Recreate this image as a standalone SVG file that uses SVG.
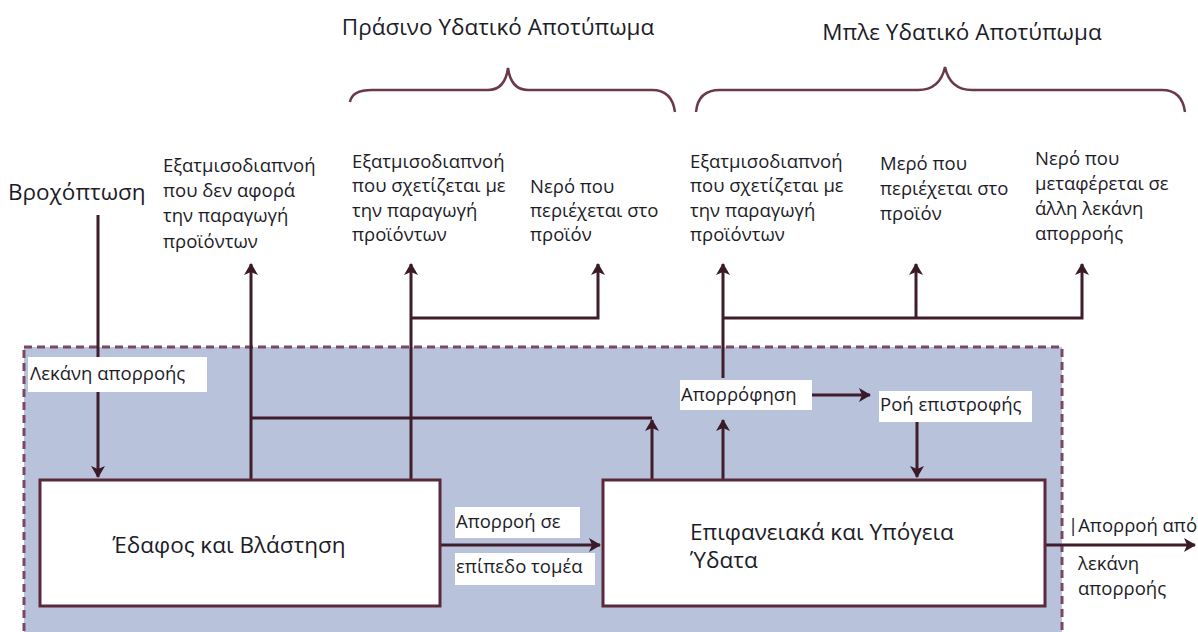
<svg xmlns="http://www.w3.org/2000/svg" width="1198" height="632" viewBox="0 0 1198 632">
<defs>
<marker id="ah" viewBox="0 0 12 14" refX="11" refY="7" markerWidth="13" markerHeight="14" markerUnits="userSpaceOnUse" orient="auto">
<path d="M0,0 L12,7 L0,14 L3,7 Z" fill="#3a1a28"/>
</marker>
<style>
.ln{stroke:#3f1d2c;stroke-width:3;fill:none}
.ar{stroke:#3f1d2c;stroke-width:3;fill:none;marker-end:url(#ah)}
.t{font-family:"Open Sans","Noto Sans",sans-serif;font-size:18.5px;fill:#1c1c28}
.tb{font-family:"Open Sans","Noto Sans",sans-serif;font-size:22.5px;fill:#1c1c28}
.lb{fill:#ffffff}
.box{fill:#ffffff;stroke:#5a2a3c;stroke-width:3}
.br{stroke:#6a3a48;stroke-width:2.5;fill:none}
</style>
</defs>
<rect width="1198" height="632" fill="#ffffff"/>
<g id="basin">
<rect x="24" y="347" width="1038" height="300" fill="#b8c2da" stroke="#7a4860" stroke-width="3" stroke-dasharray="8,5"/>
</g>
<g id="titles">
<text class="tb" x="498" y="35" text-anchor="middle">Πράσινο Υδατικό Αποτύπωμα</text>
<text class="tb" x="962" y="40" text-anchor="middle">Μπλε Υδατικό Αποτύπωμα</text>
<path class="br" d="M350,102 Q352,90 372,90 L488,90 Q505,90 508,68 Q511,90 528,90 L652,90 Q672,90 675,112"/>
<path class="br" d="M696,112 Q698,90 720,90 L918,90 Q940,90 945,67 Q950,90 972,90 L1162,90 Q1182,90 1185,112"/>
</g>
<g id="connectors">
<line class="ar" x1="98" y1="215" x2="98" y2="477"/>
<line class="ar" x1="251" y1="480" x2="251" y2="264"/>
<line class="ln" x1="251" y1="418" x2="652" y2="418"/>
<line class="ar" x1="652" y1="480" x2="652" y2="420"/>
<line class="ar" x1="411" y1="480" x2="411" y2="264"/>
<polyline class="ar" points="411,318 598,318 598,264"/>
<line class="ar" x1="723" y1="480" x2="723" y2="420"/>
<line class="ar" x1="723" y1="378" x2="723" y2="264"/>
<polyline class="ar" points="723,318 1082,318 1082,264"/>
<line class="ar" x1="916" y1="318" x2="916" y2="264"/>
<line class="ar" x1="812" y1="395" x2="870" y2="395"/>
<line class="ar" x1="917" y1="422" x2="917" y2="477"/>
<line class="ar" x1="440" y1="545" x2="600" y2="545"/>
<line class="ar" x1="1045" y1="545" x2="1195" y2="545"/>
</g>
<g id="soil">
<rect class="box" x="40" y="480" width="400" height="126"/>
<text class="tb" x="229" y="553" text-anchor="middle">Έδαφος και Βλάστηση</text>
</g>
<g id="water">
<rect class="box" x="603" y="480" width="442" height="126"/>
<text class="tb" x="690" y="540">Επιφανειακά και Υπόγεια</text>
<text class="tb" x="690" y="568">Ύδατα</text>
</g>
<g id="rain">
<text class="tb" x="8" y="200">Βροχόπτωση</text>
</g>
<g id="basin-label">
<rect class="lb" x="28" y="357" width="179" height="35"/>
<text class="t" x="30" y="380">Λεκάνη απορροής</text>
</g>
<g id="et-nonprod">
<text class="t" x="163" y="172">Εξατμισοδιαπνοή</text>
<text class="t" x="163" y="197">που δεν αφορά</text>
<text class="t" x="163" y="222">την παραγωγή</text>
<text class="t" x="163" y="248">προϊόντων</text>
</g>
<g id="et-prod-green">
<text class="t" x="352" y="168">Εξατμισοδιαπνοή</text>
<text class="t" x="352" y="192">που σχετίζεται με</text>
<text class="t" x="352" y="217">την παραγωγή</text>
<text class="t" x="352" y="241">προϊόντων</text>
</g>
<g id="product-green">
<text class="t" x="530" y="193">Νερό που</text>
<text class="t" x="530" y="217">περιέχεται στο</text>
<text class="t" x="530" y="241">προϊόν</text>
</g>
<g id="et-prod-blue">
<text class="t" x="690" y="168">Εξατμισοδιαπνοή</text>
<text class="t" x="690" y="192">που σχετίζεται με</text>
<text class="t" x="690" y="217">την παραγωγή</text>
<text class="t" x="690" y="241">προϊόντων</text>
</g>
<g id="product-blue">
<text class="t" x="880" y="170">Μερό που</text>
<text class="t" x="880" y="195">περιέχεται στο</text>
<text class="t" x="880" y="220">προϊόν</text>
</g>
<g id="transfer">
<text class="t" x="1035" y="165">Νερό που</text>
<text class="t" x="1035" y="190">μεταφέρεται σε</text>
<text class="t" x="1035" y="215">άλλη λεκάνη</text>
<text class="t" x="1035" y="240">απορροής</text>
</g>
<g id="absorption">
<rect class="lb" x="680" y="380" width="132" height="30"/>
<text class="t" x="681" y="401">Απορρόφηση</text>
</g>
<g id="return">
<rect class="lb" x="879" y="391" width="153" height="31"/>
<text class="t" x="880" y="411">Ροή επιστροφής</text>
</g>
<g id="runoff-sector">
<rect class="lb" x="455" y="507" width="125" height="31"/>
<text class="t" x="456" y="528">Απορροή σε</text>
<rect class="lb" x="455" y="553" width="140" height="32"/>
<text class="t" x="456" y="573">επίπεδο τομέα</text>
</g>
<g id="outflow">
<text class="t" x="1068" y="532">|Απορροή από</text>
<text class="t" x="1078" y="570">λεκάνη</text>
<text class="t" x="1078" y="595">απορροής</text>
</g>
</svg>
